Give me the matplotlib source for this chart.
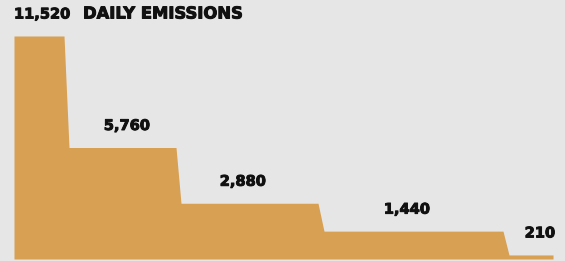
import matplotlib
matplotlib.use("Agg")
import matplotlib.pyplot as plt
import matplotlib.patheffects as pe

# Data
x_break = [0, 50, 55, 162, 167, 304, 310, 489, 495, 539]
emissions = [11520, 11520, 5760, 5760, 2880, 2880, 1440, 1440, 210, 210]
step_values = [11520, 5760, 2880, 1440, 210]
step_labels = ["11,520", "5,760", "2,880", "1,440", "210"]
title = "DAILY EMISSIONS"

# Layout (pixel-based)
W, H = 565, 261
label_x = [0, 113, 229, 393, 526]
label_ha = ["left", "center", "center", "center", "center"]

fig = plt.figure(figsize=(W / 100, H / 100), dpi=100)
fig.patch.set_facecolor("#e6e6e6")
ax = fig.add_axes([0, 0, 1, 1])
ax.set_facecolor("#e6e6e6")
ypp = 11520 / 223.0
ax.set_xlim(-14, W - 14)
ax.set_ylim(-2 * ypp, 11520 + 36 * ypp)
ax.axis("off")

ax.fill_between(x_break, emissions, 0, color="#d8a052", linewidth=0)

effects = [pe.withStroke(linewidth=0.7, foreground="#111111")]
font = dict(family="DejaVu Sans", weight="bold", color="#111111", path_effects=effects)
for xv, yv, lab, ha in zip(label_x, step_values, step_labels, label_ha):
    ax.text(xv, yv + 22 * ypp, lab, ha=ha, va="center", size=10.5, **font)
ax.text(69, 11520 + 22 * ypp, title, ha="left", va="center", size=11.8, **font)

fig.savefig("out.png", dpi=100, facecolor=fig.get_facecolor())
